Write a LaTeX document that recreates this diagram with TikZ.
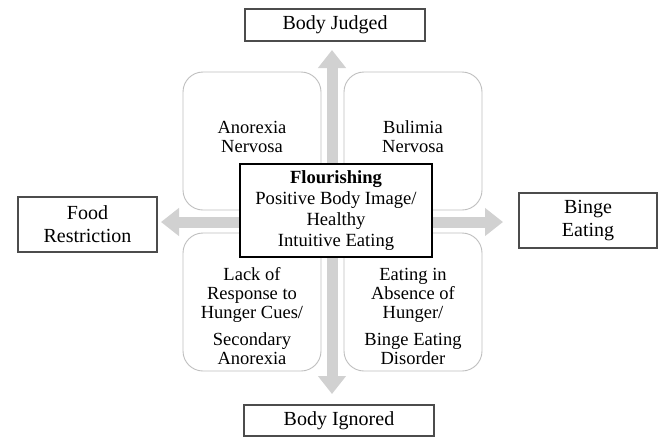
\documentclass[tikz,border=0pt]{standalone}
\usepackage{fontspec}
\setmainfont{Liberation Serif}
\usetikzlibrary{arrows.meta,backgrounds}
\begin{document}
\begin{tikzpicture}[x=1pt,y=-1pt,
  outerbox/.style={draw=black!70,line width=1.1pt,inner sep=0pt,align=center,font=\fontsize{20}{23}\selectfont},
  quadbox/.style={draw=black!25,line width=0.9pt,rounded corners=20pt,minimum width=138pt,minimum height=138pt,inner sep=0pt},
  quadtext/.style={align=center,inner sep=0pt,font=\fontsize{18.5}{19}\selectfont},
  centerbox/.style={draw=black,fill=white,line width=1.6pt,inner sep=0pt,align=center,minimum width=192pt,minimum height=93pt,font=\fontsize{18.6}{21}\selectfont},
  bigarrow/.style={draw=black!18,line width=11pt,-{Triangle[width=27pt,length=18pt]}}]
\useasboundingbox (0,0) rectangle (659,437);
% outer boxes
\node[outerbox,minimum width=180pt,minimum height=32pt] (bj) at (335,25) {Body Judged};
\node[outerbox,minimum width=190pt,minimum height=31pt] (bi) at (339,420.5) {Body Ignored};
\node[outerbox,minimum width=139pt,minimum height=55pt] (fr) at (87.5,224.5) {Food\\Restriction};
\node[outerbox,minimum width=138pt,minimum height=55pt] (be) at (588,220.5) {Binge\\Eating};
% quadrants
\node[quadbox] (tl) at (252,141) {};
\node[quadbox] (tr) at (413,141) {};
\node[quadbox] (bl) at (252,302) {};
\node[quadbox] (br) at (413,302) {};
\node[quadtext] (tlt) at (252,137) {Anorexia\\Nervosa};
\node[quadtext] (trt) at (413,137) {Bulimia\\Nervosa};
\node[quadtext] (blt) at (252,316) {Lack of\\Response to\\Hunger Cues/\\[8pt]Secondary\\Anorexia};
\node[quadtext] (brt) at (413,316) {Eating in\\Absence of\\Hunger/\\[8pt]Binge Eating\\Disorder};
% centre
\node[centerbox] (c) at (336,210.5) {\textbf{Flourishing}\\Positive Body Image/\\Healthy\\Intuitive Eating};
% arrows
\coordinate (hub) at (332,222);
\coordinate (tipN) at (332,50);
\coordinate (tipS) at (332,394);
\coordinate (tipW) at (161,222);
\coordinate (tipE) at (503,222);
\begin{scope}[on background layer]
\fill[white] (0,0) rectangle (659,437);
\draw[bigarrow] (hub) -- (tipN);
\draw[bigarrow] (hub) -- (tipS);
\draw[bigarrow] (hub) -- (tipW);
\draw[bigarrow] (hub) -- (tipE);
\end{scope}
\end{tikzpicture}
\end{document}
